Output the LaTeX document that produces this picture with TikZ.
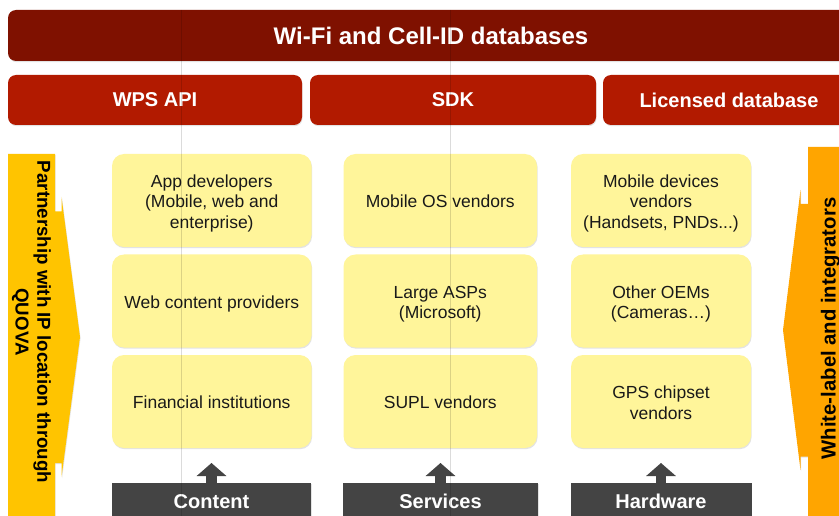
\documentclass[tikz,border=0pt]{standalone}
\usepackage{fontspec}
\setmainfont{Liberation Sans}
\usetikzlibrary{arrows.meta,shadows,calc}
\definecolor{dbred}{HTML}{7F1100}
\definecolor{prodred}{HTML}{B21A00}
\definecolor{cellyel}{HTML}{FFF59A}
\definecolor{leftgold}{HTML}{FFC400}
\definecolor{rightorange}{HTML}{FFA500}
\definecolor{basegray}{HTML}{444444}
% centred lines of a segment box, set on struts so every box places its baselines alike,
% then lowered a little while keeping the box's own height and depth
\newcommand\segmentlines[1]{\raisebox{-3.3pt}[\height][\depth]{\begin{tabular}{@{}c@{}}#1\end{tabular}}}
\begin{document}
\begin{tikzpicture}[x=1pt,y=-1pt,
  softshadow/.style={drop shadow={opacity=0.22,shadow xshift=0.6pt,shadow yshift=-1.2pt}},
  bar/.style={rounded corners=8pt,inner sep=0pt,outer sep=0pt,text=white,
    font=\bfseries\fontsize{20}{24}\selectfont,softshadow},
  dbbar/.style={bar,fill=dbred,font=\bfseries\fontsize{24}{28}\selectfont},
  prodbar/.style={bar,fill=prodred,minimum height=50pt},
  cell/.style={fill=cellyel,rounded corners=12pt,inner sep=0pt,outer sep=0pt,
    text=black!90,font=\fontsize{17.5}{20.3}\selectfont,
    minimum height=93pt,softshadow},
  basebox/.style={fill=basegray,inner sep=0pt,outer sep=0pt,text=white,
    font=\bfseries\fontsize{20}{24}\selectfont,minimum height=37.4pt,softshadow},
  uparrow/.style={draw=basegray,line width=10.6pt,
    -{Triangle[width=29pt,length=13pt]},shorten >=15pt},
  sidetext/.style={align=center,text=black,inner sep=0pt},
]
\clip (0,0) rectangle (839,516);
\fill[white] (0,0) rectangle (839,516);

% data layers
\node[dbbar,minimum width=846pt,minimum height=51pt] (db) at (431,35.5) {Wi-Fi and Cell-ID databases};
\node[prodbar,minimum width=294pt] (wps) at (155,100) {WPS API};
\node[prodbar,minimum width=286pt] (sdk) at (453,100) {SDK};
\node[prodbar,minimum width=252pt] (lic) at (729,100) {Licensed database};

% side arrows
\fill[leftgold,softshadow] (8,154) -- (55,154) -- (55,211.5) -- (61.5,211.5) -- (61.5,197)
  -- (80,337) -- (61.5,477) -- (61.5,463) -- (55,463) -- (55,530) -- (8,530) -- cycle;
\node[sidetext,rotate=-90,font=\bfseries\fontsize{18.7}{21.7}\selectfont] (quova) at (31.5,322)
  {Partnership with IP location through\\QUOVA};

\fill[rightorange,softshadow] (850,147) -- (808,147) -- (808,204) -- (800.5,204) -- (800.5,190)
  -- (783,330) -- (800.5,470) -- (800.5,456.5) -- (808,456.5) -- (808,530) -- (850,530) -- cycle;
\node[sidetext,rotate=90,font=\bfseries\fontsize{20.3}{24}\selectfont] (wl) at (830.5,328.5)
  {White-label and integrators};

% customer segments
\node[cell,minimum width=199.5pt] (app) at (211.75,200.5) {\segmentlines{App developers\\(Mobile, web and\\enterprise)}};
\node[cell,minimum width=199.5pt] (web) at (211.75,301) {\segmentlines{Web content providers}};
\node[cell,minimum width=199.5pt] (fin) at (211.75,401.5) {\segmentlines{Financial institutions}};

\node[cell,minimum width=193.5pt] (mos) at (440.25,200.5) {\segmentlines{Mobile OS vendors}};
\node[cell,minimum width=193.5pt] (asp) at (440.25,301) {\segmentlines{Large ASPs\\(Microsoft)}};
\node[cell,minimum width=193.5pt] (supl) at (440.25,401.5) {\segmentlines{SUPL vendors}};

\node[cell,minimum width=180pt] (mdv) at (661,200.5) {\segmentlines{Mobile devices\\vendors\\(Handsets, PNDs...)}};
\node[cell,minimum width=180pt] (oem) at (661,301) {\segmentlines{Other OEMs\\(Cameras…)}};
\node[cell,minimum width=180pt] (gps) at (661,401.5) {\segmentlines{GPS chipset\\vendors}};

% market categories
\node[basebox,minimum width=199pt] (cont) at (211.5,501.7) {Content};
\node[basebox,minimum width=195pt] (serv) at (440.5,501.7) {Services};
\node[basebox,minimum width=181pt] (hard) at (661,501.7) {Hardware};

\draw[uparrow] (cont.north) -- (cont.north |- fin.south);
\draw[uparrow] (serv.north) -- (serv.north |- supl.south);
\draw[uparrow] (hard.north) -- (hard.north |- gps.south);

% faint guide lines
\draw[black,opacity=0.14,line width=0.8pt] (181.5,10) -- (181.5,516);
\draw[black,opacity=0.14,line width=0.8pt] (450.5,10) -- (450.5,516);
\end{tikzpicture}
\end{document}
